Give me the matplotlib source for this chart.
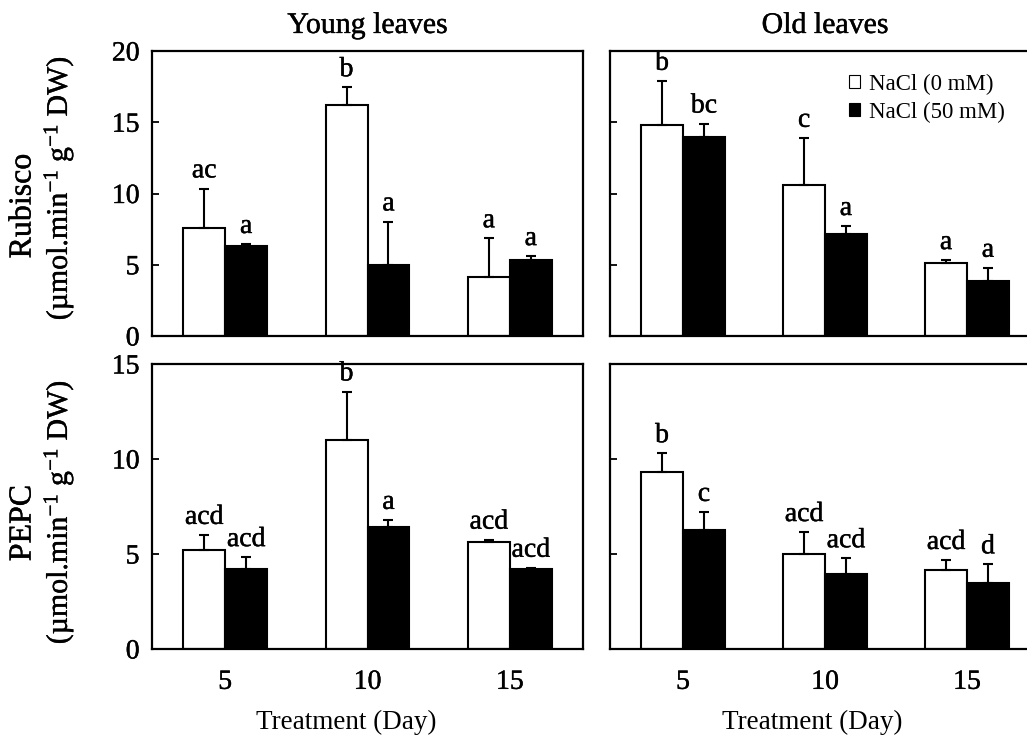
import numpy as np
import matplotlib
matplotlib.use("Agg")
import matplotlib.pyplot as plt
import matplotlib.patheffects as pe
from matplotlib.patches import Patch

plt.rcParams['font.family'] = ['Liberation Serif', 'DejaVu Serif']
plt.rcParams['mathtext.fontset'] = 'custom'
plt.rcParams['mathtext.rm'] = 'Liberation Serif'
plt.rcParams['mathtext.it'] = 'Liberation Serif:italic'

# Data
days = ['5', '10', '15']
series = ['NaCl (0 mM)', 'NaCl (50 mM)']

# Rubisco, young leaves
rub_young_0 = [7.6, 16.2, 4.15]
rub_young_0_err = [2.75, 1.25, 2.7]
rub_young_50 = [6.3, 4.98, 5.3]
rub_young_50_err = [0.15, 3.05, 0.3]
rub_young_let = [['ac', 'b', 'a'], ['a', 'a', 'a']]

# Rubisco, old leaves
rub_old_0 = [14.8, 10.6, 5.1]
rub_old_0_err = [3.1, 3.3, 0.22]
rub_old_50 = [14.0, 7.15, 3.85]
rub_old_50_err = [0.9, 0.56, 0.93]
rub_old_let = [['b', 'c', 'a'], ['bc', 'a', 'a']]

# PEPC, young leaves
pepc_young_0 = [5.2, 11.0, 5.65]
pepc_young_0_err = [0.8, 2.55, 0.1]
pepc_young_50 = [4.23, 6.42, 4.2]
pepc_young_50_err = [0.6, 0.37, 0.07]
pepc_young_let = [['acd', 'b', 'acd'], ['acd', 'a', 'acd']]

# PEPC, old leaves
pepc_old_0 = [9.3, 5.0, 4.18]
pepc_old_0_err = [1.0, 1.15, 0.5]
pepc_old_50 = [6.28, 3.95, 3.5]
pepc_old_50_err = [0.93, 0.82, 0.95]
pepc_old_let = [['b', 'acd', 'acd'], ['c', 'acd', 'd']]

W, H = 1027, 740
fig = plt.figure(figsize=(W / 100, H / 100), dpi=100)

# slightly heavier strokes, like the original print
heavy = [pe.withStroke(linewidth=0.3, foreground='black')]


# axes rectangles in pixels: left, top, right, bottom
def px_axes(l, t, r, b):
    return fig.add_axes([l / W, 1 - b / H, (r - l) / W, (b - t) / H])


ax_tl = px_axes(152, 51, 583, 336)
ax_tr = px_axes(610, 51, 1040, 336)
ax_bl = px_axes(152, 364, 583, 649)
ax_br = px_axes(610, 364, 1040, 649)

x = np.arange(len(days))
bw = 0.295


def draw_panel(ax, v0, e0, v50, e50, letters, ymax, yticks, show_yl, show_xl):
    for off, vals, errs, fc, lets in [(-bw / 2, v0, e0, 'white', letters[0]),
                                      (bw / 2, v50, e50, 'black', letters[1])]:
        ax.bar(x + off, vals, width=bw, color=fc, edgecolor='black', linewidth=1.5, zorder=2)
        ax.errorbar(x + off, vals, yerr=[np.zeros(len(vals)), errs], fmt='none',
                    ecolor='black', elinewidth=1.5, capsize=3.5, capthick=1.5, zorder=3)
        for xi, v, e, t in zip(x + off, vals, errs, lets):
            ax.annotate(t, (xi, v + e), xytext=(0, 8), textcoords='offset points',
                        ha='center', va='baseline', fontsize=20, path_effects=heavy)
    ax.set_xlim(-0.514, 2.514)
    ax.set_ylim(0, ymax)
    ax.set_yticks(yticks)
    ax.set_xticks(x)
    ax.set_xticklabels(days if show_xl else [])
    ax.tick_params(axis='y', direction='in', length=5, width=1.3, labelsize=20, pad=9,
                   labelleft=show_yl)
    ax.tick_params(axis='x', length=0, labelsize=20, pad=15, labelbottom=show_xl)
    for lab in ax.get_xticklabels() + ax.get_yticklabels():
        lab.set_path_effects(heavy)
    for s in ax.spines.values():
        s.set_linewidth(1.6)


draw_panel(ax_tl, rub_young_0, rub_young_0_err, rub_young_50, rub_young_50_err,
           rub_young_let, 20, [0, 5, 10, 15, 20], True, False)
draw_panel(ax_tr, rub_old_0, rub_old_0_err, rub_old_50, rub_old_50_err,
           rub_old_let, 20, [0, 5, 10, 15, 20], False, False)
draw_panel(ax_bl, pepc_young_0, pepc_young_0_err, pepc_young_50, pepc_young_50_err,
           pepc_young_let, 15, [0, 5, 10, 15], True, True)
draw_panel(ax_br, pepc_old_0, pepc_old_0_err, pepc_old_50, pepc_old_50_err,
           pepc_old_let, 15, [0, 5, 10, 15], False, True)

ax_tl.set_title('Young leaves', fontsize=21.5, pad=13, path_effects=heavy)
ax_tr.set_title('Old leaves', fontsize=21.5, pad=13, path_effects=heavy)

unit = '(µmol.min$^{-1}$ g$^{-1}$ DW)'
fig.text(23 / W, 1 - 206 / H, 'Rubisco', rotation=90, ha='center', va='center',
         fontsize=23, path_effects=heavy)
fig.text(59 / W, 1 - 188 / H, unit, rotation=90, ha='center', va='center',
         fontsize=21.5, path_effects=heavy)
fig.text(23 / W, 1 - 523 / H, 'PEPC', rotation=90, ha='center', va='center',
         fontsize=23, path_effects=heavy)
fig.text(59 / W, 1 - 512 / H, unit, rotation=90, ha='center', va='center',
         fontsize=21.5, path_effects=heavy)

fig.text(346 / W, 1 - 722 / H, 'Treatment (Day)', ha='center', va='center', fontsize=19.5)
fig.text(812 / W, 1 - 722 / H, 'Treatment (Day)', ha='center', va='center', fontsize=19.5)

handles = [Patch(facecolor='white', edgecolor='black', linewidth=0.8),
           Patch(facecolor='black', edgecolor='black', linewidth=0.8)]
ax_tr.legend(handles, series, loc='center left', bbox_to_anchor=(0.555, 0.834),
             frameon=False, fontsize=16.5, handlelength=0.5, handleheight=0.5,
             handletextpad=0.4, labelspacing=0.3, borderpad=0, borderaxespad=0)

fig.savefig('out.png', dpi=100)
